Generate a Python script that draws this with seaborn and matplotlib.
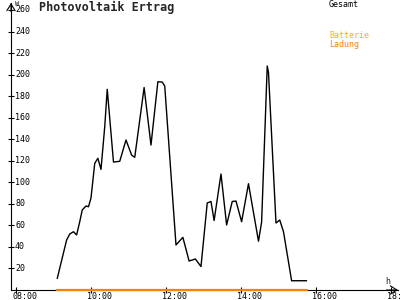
import matplotlib
matplotlib.use('Agg')
import matplotlib.pyplot as plt
import seaborn as sns
import pandas as pd

# ---- data ----
times = ["09:06", "09:21", "09:26", "09:32", "09:37", "09:42", "09:46", "09:52",
         "09:56", "10:00", "10:06", "10:11", "10:16", "10:22", "10:26", "10:36",
         "10:46", "10:56", "11:05", "11:10", "11:25", "11:36", "11:47", "11:54",
         "11:58", "12:16", "12:27", "12:37", "12:47", "12:56", "13:06", "13:12",
         "13:17", "13:28", "13:37", "13:46", "13:52", "14:01", "14:12", "14:28",
         "14:33", "14:42", "14:44", "14:56", "15:02", "15:08", "15:21", "15:45"]
gesamt = [10.7, 46.4, 52.0, 54.1, 51.1, 63.4, 74.3, 78.0,
          77.3, 85.4, 117.6, 122.3, 112.0, 151.6, 186.4, 118.8,
          119.5, 139.3, 125.3, 123.2, 188.0, 134.6, 193.4, 193.1,
          189.4, 41.8, 48.9, 26.9, 28.8, 21.8, 80.8, 82.2,
          64.5, 107.7, 60.4, 82.2, 82.6, 63.4, 98.7, 45.3,
          63.1, 208.0, 201.9, 62.2, 65.0, 54.1, 8.6, 8.6]
ladung_times = ["09:05", "15:45"]
ladung = [0, 0]

yticks = [20, 40, 60, 80, 100, 120, 140, 160, 180, 200, 220, 240, 260]
xtick_labels = ["08:00", "10:00", "12:00", "14:00", "16:00", "18:00"]


def to_h(s):
    h, m = s.split(':')
    return int(h) + int(m) / 60.0


df = pd.DataFrame({'t': [to_h(s) for s in times], 'W': gesamt})
df2 = pd.DataFrame({'t': [to_h(s) for s in ladung_times], 'W': ladung})

sns.set_theme(style='white')
plt.rcParams['font.family'] = ['DejaVu Sans Mono']

fig = plt.figure(figsize=(4, 3), dpi=100)
fig.patch.set_facecolor('white')
ax = fig.add_axes([11 / 400, 10 / 300, 387 / 400, 287 / 300])
ax.set_facecolor('white')

sns.lineplot(data=df, x='t', y='W', color='black', lw=1.0, ax=ax,
             estimator=None, sort=False)
sns.lineplot(data=df2, x='t', y='W', color='#ff8000', lw=1.6, ax=ax,
             estimator=None, sort=False, clip_on=False, zorder=5)

ax.set_xlim(7.867, 18.187)
ax.set_ylim(0, 266.5)
ax.set_xlabel('')
ax.set_ylabel('')

for s in ['top', 'right']:
    ax.spines[s].set_visible(False)
for s in ['left', 'bottom']:
    ax.spines[s].set_color('black')
    ax.spines[s].set_linewidth(0.8)

ax.set_xticks([to_h(l) for l in xtick_labels])
ax.set_xticklabels([])
ax.set_yticks(yticks)
ax.set_yticklabels([])
ax.tick_params(direction='inout', length=4.3, width=0.8, color='black',
               bottom=True, left=True)

for v in yticks:
    ax.annotate(str(v), xy=(0, v), xycoords=('axes fraction', 'data'),
                xytext=(2.9, 0), textcoords='offset points',
                ha='left', va='center', fontsize=6, color='black',
                annotation_clip=False)
for lab in xtick_labels:
    ax.annotate(lab, xy=(to_h(lab), 0), xycoords=('data', 'axes fraction'),
                xytext=(-2.6, -1.2), textcoords='offset points',
                ha='left', va='top', fontsize=6, color='black',
                annotation_clip=False)

# axis arrows
ax.annotate('', xy=(1.0, 0), xytext=(0.97, 0), xycoords='axes fraction',
            arrowprops=dict(arrowstyle='->,head_length=0.4,head_width=0.25',
                            lw=0.8, color='black', shrinkA=0, shrinkB=0))
ax.annotate('', xy=(0, 1.0), xytext=(0, 0.97), xycoords='axes fraction',
            arrowprops=dict(arrowstyle='->,head_length=0.4,head_width=0.25',
                            lw=0.8, color='black', shrinkA=0, shrinkB=0))

fig.text(15 / 400, 1 - 4 / 300, 'W', fontsize=5, ha='left', va='center')
fig.text(385 / 400, 1 - 281.5 / 300, 'h', fontsize=6, ha='left', va='center')

fig.text(39 / 400, 1 - 7 / 300, 'Photovoltaik Ertrag', fontsize=8.5,
         fontweight='bold', ha='left', va='center')
fig.text(329 / 400, 1 - 4.5 / 300, 'Gesamt', fontsize=6, ha='left', va='center',
         color='black')
fig.text(329 / 400, 1 - 36 / 300, 'Batterie', fontsize=6, ha='left', va='center',
         color='#ffb000')
fig.text(329 / 400, 1 - 44 / 300, 'Ladung', fontsize=6, ha='left', va='center',
         color='#ff8000')

fig.savefig('out.png', dpi=100, facecolor='white')
